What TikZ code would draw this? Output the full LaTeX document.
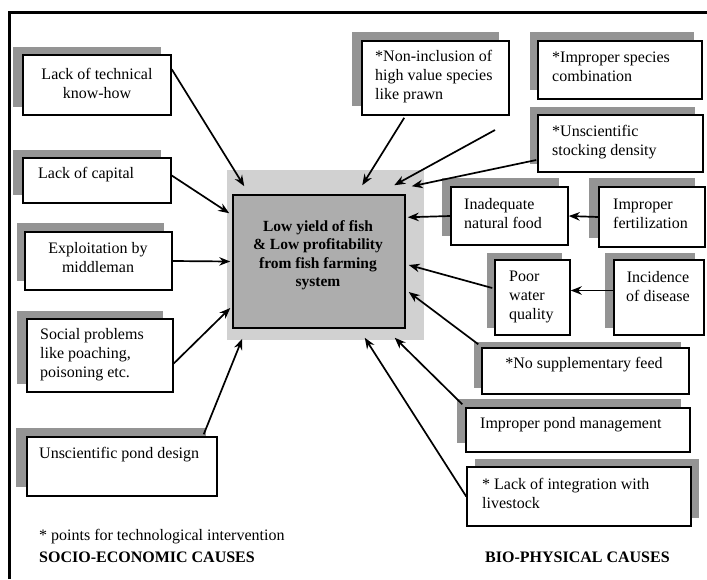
\documentclass[tikz,border=0pt]{standalone}
\usepackage{fontspec}
\setmainfont{Liberation Serif}
\usetikzlibrary{calc,arrows.meta}
\tikzset{
  box/.style={draw=black, line width=1.5pt, fill=white, inner sep=0pt},
  shad/.style={fill=black!42, draw=none},
  lbl/.style={font=\fontsize{16}{19}\selectfont, inner sep=0pt, align=left},
  lblc/.style={font=\fontsize{16}{19}\selectfont, inner sep=0pt, align=center},
  head/.style={font=\fontsize{16}{19}\selectfont\bfseries, inner sep=0pt, align=left},
  arr/.style={line width=1.7pt, -{Stealth[length=11pt,width=8.5pt]}},
}
\newcommand\shbox[6]{%
  \fill[shad] ($(#2,#3)+(#6)$) rectangle ($(#4,#5)+(#6)$);
  \node[box, minimum width={#4-#2}, minimum height={#5-#3}] (#1) at ({(#2+#4)/2},{(#3+#5)/2}) {};
}
\begin{document}
\begin{tikzpicture}[x=1pt,y=-1pt]
\useasboundingbox (0,0) rectangle (707,579);
% frame
\draw[line width=3pt] (9,579) -- (9,12) -- (707,12);

% centre
\fill[black!18] (227,170) rectangle (424,340);
\node[box, fill=black!32, minimum width=172, minimum height=133] (c) at (319,261.5) {};
\node[font=\fontsize{15.5}{18.5}\selectfont\bfseries, align=center, inner sep=0pt] (ct) at (318,255)
  {Low yield of fish\\\& Low profitability\\from fish farming\\system};

% left column
\shbox{lt}{23}{55}{171}{115}{-10,-8}
\shbox{cap}{23}{158}{171}{203}{-10,-8}
\shbox{exp}{25}{232}{172}{290}{-8,-9}
\shbox{soc}{27}{319}{173}{392}{-10,-8}
\shbox{pd}{27}{437}{217}{496}{-11,-9}

\node[lblc] (tlt) at (97,83) {Lack of technical\\know-how};
\node[lbl, anchor=west] (tcap) at (38,175) {Lack of capital};
\node[lblc] (texp) at (98,257.5) {Exploitation by\\middleman};
\node[lbl, anchor=west] (tsoc) at (40,355) {Social problems\\like poaching,\\poisoning etc.};
\node[lbl, anchor=west] (tpd) at (39,455) {Unscientific pond design};

\node[lbl, anchor=west] (note) at (39,537) {* points for technological intervention};
\node[head, anchor=west] (socio) at (39,557) {SOCIO-ECONOMIC CAUSES};

% right side
\shbox{ni}{362}{41}{509}{115}{-10,-9}
\shbox{isc}{538}{41}{702}{99}{-8,-9}
\shbox{sd}{538}{115}{703}{172}{-8,-8}
\shbox{inf}{451}{187}{568}{245}{-9,-9}
\shbox{fer}{599}{187}{705}{247}{-10,-9}
\shbox{pw}{495}{260}{570}{335}{-8,-7}
\shbox{dis}{614}{260}{704}{335}{-9,-7}
\shbox{sf}{482}{348}{689}{394}{-8,-6}
\shbox{pm}{466}{408}{690}{452}{-9,-9}
\shbox{li}{467}{467}{691}{526}{8,-8}

\node[lbl, anchor=west] (tni) at (375,77) {*Non-inclusion of\\high value species\\like prawn};
\node[lbl, anchor=west] (tisc) at (552,67) {*Improper species\\combination};
\node[lbl, anchor=west] (tsd) at (552,142) {*Unscientific\\stocking density};
\node[lbl, anchor=west] (tinf) at (464,214) {Inadequate\\natural food};
\node[lbl, anchor=west] (tfer) at (613,214) {Improper\\fertilization};
\node[lbl, anchor=west] (tpw) at (509,297) {Poor\\water\\quality};
\node[lblc] (tdis) at (658,287) {Incidence\\of disease};
\node[lblc] (tsf) at (584,365) {*No supplementary feed};
\node[lbl, anchor=west] (tpm) at (480,425) {Improper pond management};
\node[lbl, anchor=west] (tli) at (482,493) {* Lack of integration with\\livestock};

\node[head, anchor=west] (bio) at (485,557) {BIO-PHYSICAL CAUSES};

% arrows, left
\draw[arr] ($(lt.north east)+(0,15)$) -- ($(c.north west)+(12,-8)$);
\draw[arr] ($(cap.east)+(0,-5)$) -- ($(c.north west)+(-3,19)$);
\draw[arr] (exp.east) -- ($(c.west)+(-2,0)$);
\draw[arr] ($(soc.east)+(0,8)$) -- ($(c.west)+(-2,46.5)$);
\draw[arr] ($(pd.north east)+(-14,-2)$) -- ($(c.south west)+(10,10)$);

% arrows, right
\coordinate (fa) at (495,130);
\draw[arr] ($(ni.south west)+(43,2)$) -- ($(c.north west)+(130,-9)$);
\draw[arr] (fa) -- ($(c.north west)+(162,-9)$);
\draw[arr] ($(sd.west)+(-1,16.5)$) -- ($(c.north east)+(6,-8)$);
\draw[arr] (inf.west) -- ($(c.north east)+(2,23)$);
\draw[arr] (fer.west) -- (inf.east);
\draw[arr] ($(pw.west)+(-2,-9.5)$) -- ($(c.east)+(3,3.5)$);
\draw[arr] ($(dis.west)+(0,-7)$) -- ($(pw.east)+(0,-7)$);
\draw[arr] ($(sf.north west)+(-3,-3)$) -- ($(c.east)+(3,30.5)$);
\draw[arr] ($(pm.north west)+(-3,-3)$) -- ($(c.south east)+(-11,9)$);
\draw[arr] (li.west) -- ($(c.south east)+(-41,9)$);
\end{tikzpicture}
\end{document}
